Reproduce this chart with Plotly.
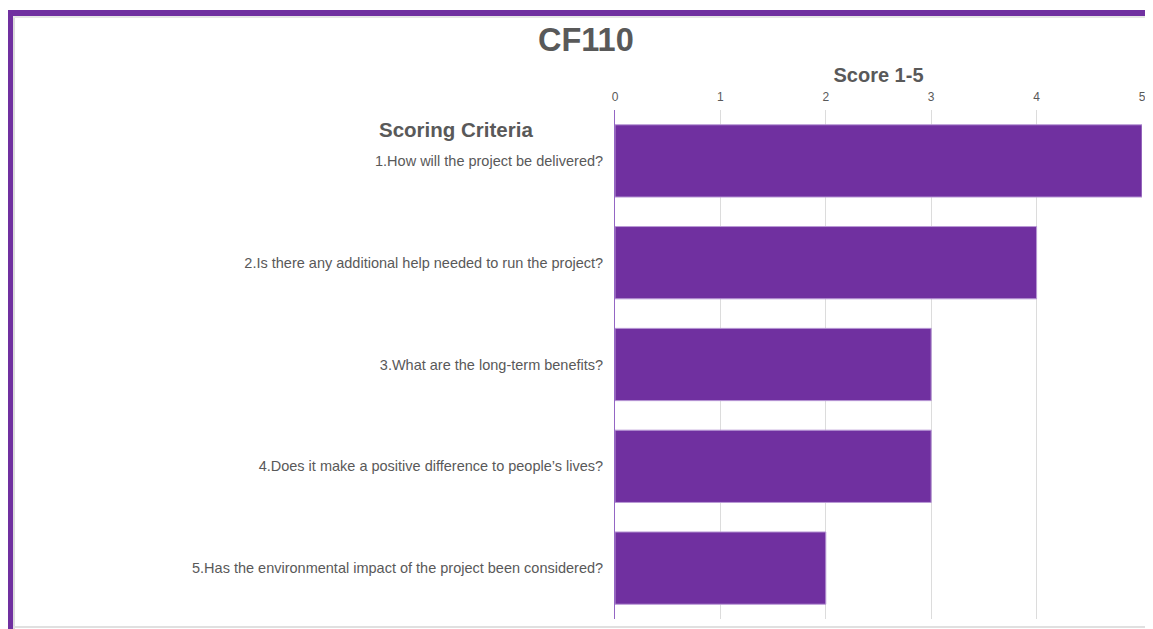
import plotly.graph_objects as go

categories = [
    "1.How will the project be delivered?",
    "2.Is there any additional help needed to run the project?",
    "3.What are the long-term benefits?",
    "4.Does it make a positive difference to people\u2019s lives?",
    "5.Has the environmental impact of the project been considered?",
]
scores = [5, 4, 3, 3, 2]
tick_vals = [0, 1, 2, 3, 4, 5]

# page body has an 8px margin, so the figure is drawn 8px in from the window edge
W, H = 1145, 621
L, R, T, B = 607, 11, 102, 10
PW, PH = W - L - R, H - T - B

def px(x):
    return (x - L) / PW

def py(y):
    return 1 - (y - T) / PH

GREY = "#595959"
PURPLE = "#7030A0"
FONT = "Liberation Sans, Arial, sans-serif"

fig = go.Figure(go.Bar(
    x=scores, y=categories, orientation="h",
    marker=dict(color=PURPLE, line=dict(color="#b99ad6", width=1)),
))

shapes = [
    dict(type="rect", xref="paper", yref="paper", x0=px(5), x1=px(7), y0=py(H), y1=py(8),
         fillcolor="#dcdcdc", line=dict(width=0), layer="above"),
    dict(type="rect", xref="paper", yref="paper", x0=px(5), x1=px(W), y0=py(10), y1=py(8),
         fillcolor="#e6e6e6", line=dict(width=0), layer="above"),
    dict(type="rect", xref="paper", yref="paper", x0=px(-1), x1=px(5), y0=py(H), y1=py(2),
         fillcolor=PURPLE, line=dict(width=0), layer="above"),
    dict(type="rect", xref="paper", yref="paper", x0=px(-1), x1=px(W), y0=py(8), y1=py(2),
         fillcolor=PURPLE, line=dict(width=0), layer="above"),
    dict(type="rect", xref="paper", yref="paper", x0=px(5), x1=px(W), y0=py(620), y1=py(618),
         fillcolor="#e0e0e0", line=dict(width=0), layer="above"),
]

annotations = [
    dict(text="<b>CF110</b>", xref="paper", yref="paper", x=px(578), y=py(32),
         xanchor="center", yanchor="middle", showarrow=False,
         font=dict(size=32.5, color=GREY, family=FONT)),
    dict(text="<b>Scoring Criteria</b>", xref="paper", yref="paper", x=px(448), y=py(122),
         xanchor="center", yanchor="middle", showarrow=False,
         font=dict(size=20.5, color=GREY, family=FONT)),
]

fig.update_layout(
    width=W, height=H,
    margin=dict(l=L, r=R, t=T, b=B, autoexpand=False),
    paper_bgcolor="white", plot_bgcolor="white",
    font=dict(family=FONT, color=GREY),
    bargap=0.29,
    showlegend=False,
    shapes=shapes,
    annotations=annotations,
    xaxis=dict(
        side="top", range=[0, 5], tickvals=tick_vals,
        tickfont=dict(size=12, color=GREY),
        ticklabelstandoff=6,
        showgrid=True, gridcolor="#dcdcdc", gridwidth=1,
        zeroline=False,
        showline=False, ticks="",
        title=dict(text="<b>Score 1-5</b>", font=dict(size=20, color=GREY), standoff=1),
    ),
    yaxis=dict(
        autorange="reversed", ticks="", showgrid=False,
        showline=True, linecolor="#9466c4", linewidth=1,
        tickfont=dict(size=14.5, color=GREY),
        ticklabelstandoff=8,
    ),
)

fig.write_html("out.html")
